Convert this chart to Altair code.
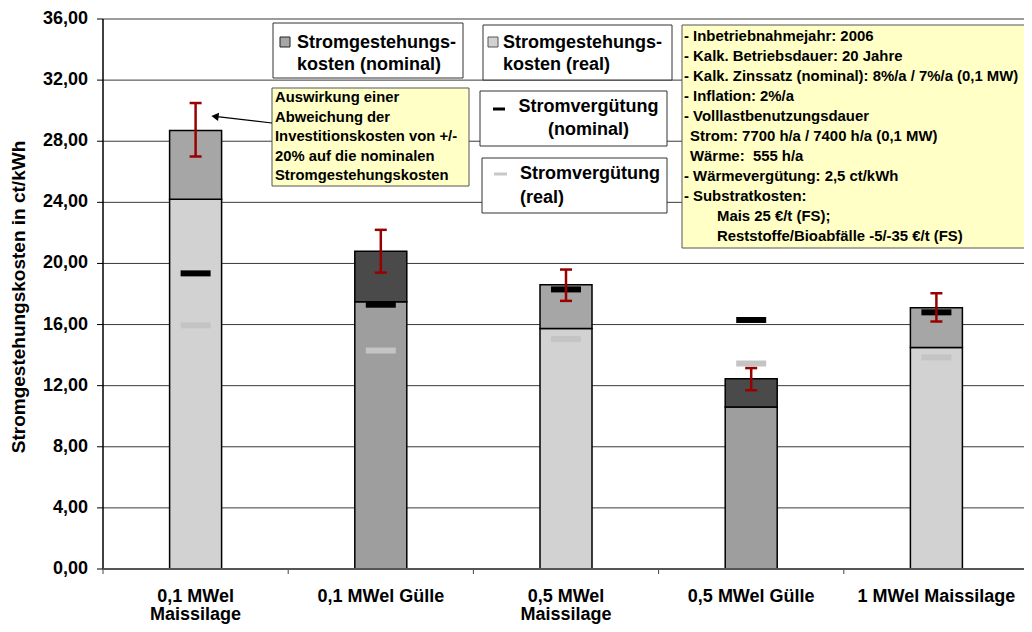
import altair as alt
import pandas as pd

FONT = "Liberation Sans"

# ---- data ----
categories = ["0,1 MWel|Maissilage", "0,1 MWel Gülle", "0,5 MWel|Maissilage",
              "0,5 MWel Gülle", "1 MWel Maissilage"]
substrate = ["Mais", "Gülle", "Mais", "Gülle", "Mais"]
real_cost = [24.2, 17.5, 15.75, 10.6, 14.5]
nominal_cost = [28.7, 20.8, 18.6, 12.45, 17.1]
err_low = [27.0, 19.4, 17.55, 11.7, 16.2]
err_high = [30.5, 22.2, 19.6, 13.15, 18.05]
verg_nominal = [19.35, 17.3, 18.3, 16.3, 16.8]
verg_real = [15.95, 14.3, 15.05, 13.45, 13.85]
y_ticks = [0, 4, 8, 12, 16, 20, 24, 28, 32, 36]

nominal_fill = {"Mais": "#a6a6a6", "Gülle": "#4a4a4a"}
real_fill = {"Mais": "#d2d2d2", "Gülle": "#9e9e9e"}

W, H = 926, 550

df = pd.DataFrame({
    "cat": categories,
    "sub": substrate,
    "real": real_cost,
    "nominal": nominal_cost,
    "lo": err_low,
    "hi": err_high,
    "vn": verg_nominal,
    "vr": verg_real,
})
df["nfill"] = df["sub"].map(nominal_fill)
df["rfill"] = df["sub"].map(real_fill)

ticks_df = pd.DataFrame({"v": y_ticks})
ticks_df["lbl"] = [f"{v:.2f}".replace(".", ",") for v in y_ticks]

xscale = alt.Scale(paddingInner=0, paddingOuter=0)
yscale = alt.Scale(domain=[0, 36], nice=False)
X = alt.X("cat:N", sort=categories, scale=xscale, axis=None)


def Y(f):
    return alt.Y(f, scale=yscale, axis=None)


base = alt.Chart(df)
tb = alt.Chart(ticks_df)
one = alt.Data(values=[{"k": 1}])

# ---- hand-built axes (grid, ticks, labels, domains, title) ----
grid = tb.mark_rule(color="#3a3a3a", strokeWidth=1).encode(
    y=Y("v:Q"), x=alt.value(0), x2=alt.value(W))
ytick = tb.mark_rule(color="black", strokeWidth=1).encode(
    y=Y("v:Q"), x=alt.value(-6), x2=alt.value(0))
ylab = tb.mark_text(align="right", baseline="middle", font=FONT, fontSize=18,
                    fontWeight="bold", color="black").encode(
    y=Y("v:Q"), x=alt.value(-15), text="lbl:N")
ydomain = alt.Chart(one).mark_rule(color="black", strokeWidth=1.5).encode(
    x=alt.value(0), y=alt.value(0), y2=alt.value(H))
xdomain = alt.Chart(one).mark_rule(color="#555555", strokeWidth=2).encode(
    y=alt.value(H), x=alt.value(0), x2=alt.value(W))
xtick = base.mark_rule(color="#444444", strokeWidth=1).encode(
    x=alt.X("cat:N", sort=categories, scale=xscale, axis=None, bandPosition=0),
    y=alt.value(H), y2=alt.value(H + 5))
xtick_end = alt.Chart(one).mark_rule(color="#444444", strokeWidth=1).encode(
    x=alt.value(W - 0.5), y=alt.value(H), y2=alt.value(H + 5))
ytitle = alt.Chart(one).mark_text(
    text="Stromgestehungskosten in ct/kWh", angle=270, align="center",
    baseline="middle", font=FONT, fontSize=19, fontWeight="bold", color="black").encode(
    x=alt.value(-84), y=alt.value(278))
x_labels = base.mark_text(
    align="center", baseline="top", font=FONT, fontSize=18, fontWeight="bold",
    color="black", lineBreak="|", lineHeight=18).encode(
    x=X, y=alt.value(H + 19), text="cat:N")

# ---- data marks ----
real_bar = base.mark_bar(size=52, stroke="black", strokeWidth=1.5).encode(
    x=X, y=Y("real:Q"), y2=alt.datum(0), fill=alt.Fill("rfill:N", scale=None))
nom_bar = base.mark_bar(size=52, stroke="black", strokeWidth=1.5).encode(
    x=X, y=Y("nominal:Q"), y2="real:Q", fill=alt.Fill("nfill:N", scale=None))
mark_vn = base.mark_tick(size=30, thickness=6, color="black", opacity=1).encode(
    x=X, y=Y("vn:Q"))
mark_vr = base.mark_tick(size=30, thickness=6, color="#c4c4c4", opacity=1).encode(
    x=X, y=Y("vr:Q"))
err_rule = base.mark_rule(color="#990000", strokeWidth=2.5).encode(
    x=X, y=Y("lo:Q"), y2="hi:Q")
err_lo = base.mark_tick(size=12, thickness=2.5, color="#990000", opacity=1).encode(
    x=X, y=Y("lo:Q"))
err_hi = base.mark_tick(size=12, thickness=2.5, color="#990000", opacity=1).encode(
    x=X, y=Y("hi:Q"))


def box(x1, y1, x2, y2, fill="white", stroke="#333333", sw=1):
    return alt.Chart(one).mark_rect(fill=fill, stroke=stroke, strokeWidth=sw).encode(
        x=alt.value(x1), x2=alt.value(x2), y=alt.value(y1), y2=alt.value(y2))


def txt(x, y, s, size=18, align="left"):
    return alt.Chart(one).mark_text(
        text=s, align=align, baseline="middle", font=FONT, fontSize=size,
        fontWeight="bold", color="black").encode(x=alt.value(x), y=alt.value(y))


ann = []
# legend: Stromgestehungskosten (nominal)
ann += [box(170, 4, 360, 59), box(177, 18, 187, 28, fill="#a6a6a6", stroke="#222"),
        txt(194, 24, "Stromgestehungs-"), txt(194, 46, "kosten (nominal)")]
# legend: Stromgestehungskosten (real)
ann += [box(380, 6, 569, 61), box(385, 18, 395, 28, fill="#d2d2d2", stroke="#555"),
        txt(400, 24, "Stromgestehungs-"), txt(400, 46, "kosten (real)")]
# legend: Stromvergütung (nominal)
ann += [box(377, 72, 564, 127), box(390, 88.5, 402, 91.5, fill="black", stroke="black", sw=0),
        txt(485.5, 88, "Stromvergütung", align="center"),
        txt(485.5, 111, "(nominal)", align="center")]
# legend: Stromvergütung (real)
ann += [box(379, 139, 564, 194), box(391, 153.5, 404, 156.5, fill="#c8c8c8", stroke="#c8c8c8", sw=0),
        txt(417, 155, "Stromvergütung"), txt(417, 179, "(real)")]
# yellow note + arrow
note_lines = ["Auswirkung einer", "Abweichung der", "Investitionskosten von +/-",
              "20% auf die nominalen", "Stromgestehungskosten"]
ann += [box(169, 69, 366, 167, fill="#ffffc6", stroke="#555")]
for i, s in enumerate(note_lines):
    ann.append(txt(172, 79 + 19.6 * i, s, size=14.8))
ann.append(alt.Chart(one).mark_rule(color="black", strokeWidth=1.2).encode(
    x=alt.value(169), y=alt.value(104), x2=alt.value(112), y2=alt.value(97.4)))
ann.append(alt.Chart(one).mark_point(shape="triangle-left", filled=True, size=70,
                                     angle=7, color="black", opacity=1).encode(
    x=alt.value(112), y=alt.value(97.4)))
# assumptions box
info = [("- Inbetriebnahmejahr: 2006", 581),
        ("- Kalk. Betriebsdauer: 20 Jahre", 581),
        ("- Kalk. Zinssatz (nominal): 8%/a / 7%/a (0,1 MW)", 581),
        ("- Inflation: 2%/a", 581),
        ("- Volllastbenutzungsdauer", 581),
        ("Strom: 7700 h/a / 7400 h/a (0,1 MW)", 587),
        ("Wärme: \u00a0555 h/a", 587),
        ("- Wärmevergütung: 2,5 ct/kWh", 581),
        ("- Substratkosten:", 581),
        ("Mais 25 €/t (FS);", 614),
        ("Reststoffe/Bioabfälle -5/-35 €/t (FS)", 614)]
ann.append(box(579, 6, 930, 229, fill="#ffffc6", stroke="#555"))
for i, (s, x) in enumerate(info):
    ann.append(txt(x, 18 + 20 * i, s, size=14.9))

chart = alt.layer(
    grid, ytick, ylab, ydomain, xtick, xtick_end, ytitle, x_labels,
    real_bar, nom_bar, mark_vn, mark_vr, err_rule, err_lo, err_hi,
    xdomain, *ann,
).properties(
    width=W, height=H,
    autosize=alt.AutoSizeParams(type="none"),
    padding={"left": 95, "top": 11, "right": -5, "bottom": 55},
).configure_view(strokeWidth=0)

chart.save("out.html", embed_options={"renderer": "svg", "actions": False})
